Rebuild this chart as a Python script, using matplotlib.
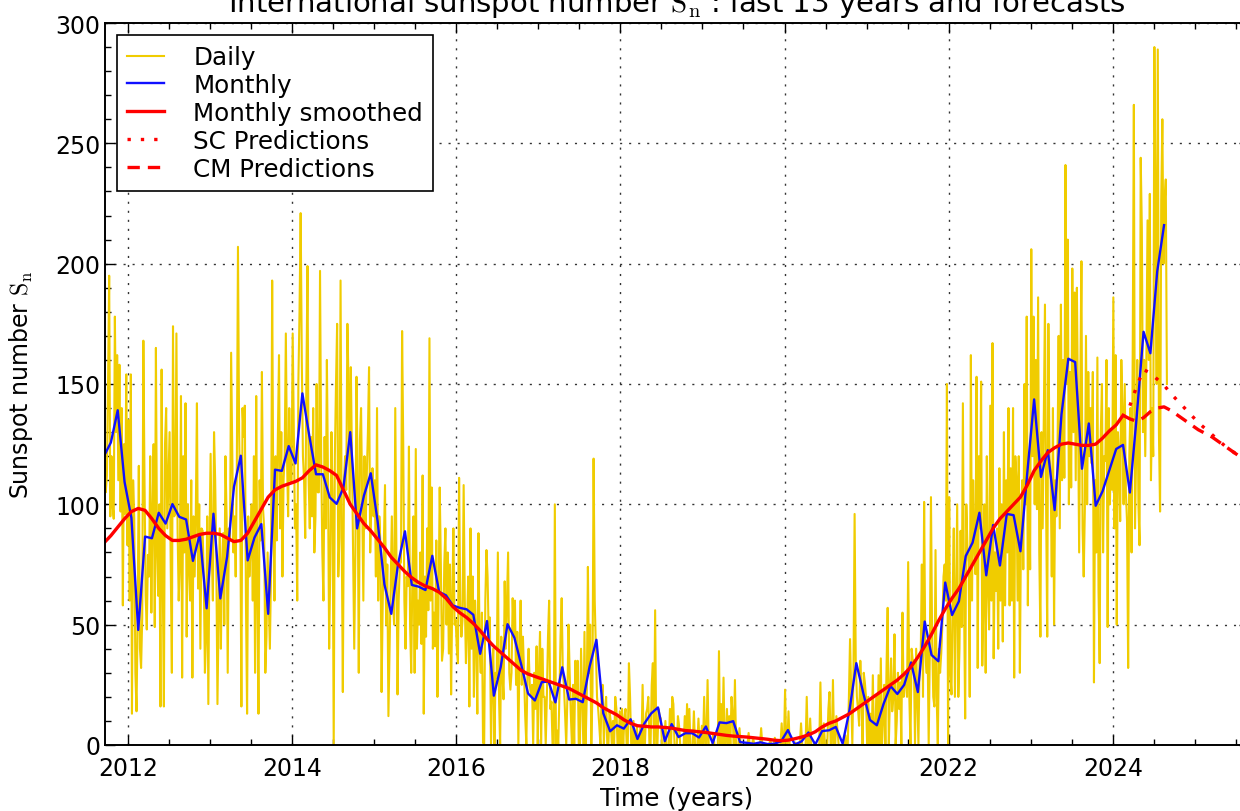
import numpy as np
import matplotlib
matplotlib.use("Agg")
import matplotlib.pyplot as plt
from matplotlib.ticker import MultipleLocator

# International sunspot number, Sep 2011 .. Aug 2024
# daily values: 6 samples per month (about every 5 days)
daily = [
    95, 130, 160, 118, 105, 112,   # 2011-09
    150, 195, 95, 120, 100, 94,
    178, 130, 162, 110, 158, 97,
    140, 58, 125, 96, 154, 83,
    135, 60, 154, 13, 110, 94,     # 2012-01
    30, 14, 55, 116, 40, 32,
    53, 168, 110, 62, 48, 79,
    70, 120, 55, 96, 125, 49,
    165, 80, 62, 100, 16, 156,
    70, 16, 125, 140, 90, 111,
    130, 75, 30, 174, 95, 96,
    171, 90, 60, 75, 145, 28,
    120, 80, 142, 45, 100, 75,
    60, 110, 28, 95, 70, 96,
    142, 65, 100, 40, 90, 89,
    70, 30, 45, 95, 17, 84,
    121, 80, 60, 130, 110, 76,     # 2013-01
    17, 55, 90, 40, 75, 88,
    50, 120, 95, 30, 90, 85,
    163, 120, 80, 95, 70, 116,
    207, 130, 100, 16, 140, 128,
    141, 60, 13, 95, 70, 81,
    100, 60, 120, 30, 145, 62,
    13, 110, 85, 155, 98, 90,
    30, 45, 80, 60, 40, 72,
    193, 100, 60, 120, 85, 128,
    162, 90, 130, 70, 110, 121,
    171, 120, 95, 140, 110, 109,
    171, 130, 90, 100, 60, 151,    # 2014-01
    180, 221, 160, 120, 110, 86,
    150, 199, 110, 90, 128, 95,
    140, 80, 95, 150, 105, 105,
    197, 120, 80, 60, 128, 90,
    160, 110, 40, 75, 130, 102,
    0, 120, 150, 175, 70, 86,
    193, 90, 22, 110, 120, 106,
    175, 150, 100, 157, 120, 78,
    40, 80, 153, 110, 30, 127,
    140, 100, 60, 120, 90, 112,
    130, 157, 80, 100, 115, 95,
    110, 70, 140, 60, 95, 83,      # 2015-01
    22, 60, 85, 108, 50, 75,
    12, 40, 70, 95, 60, 50,
    140, 80, 21, 60, 75, 76,
    172, 125, 60, 40, 70, 66,
    124, 50, 30, 70, 95, 30,
    123, 40, 60, 50, 80, 42,
    112, 13, 70, 45, 90, 56,
    169, 60, 107, 40, 55, 41,
    85, 20, 60, 107, 75, 35,
    40, 75, 90, 50, 80, 38,
    75, 21, 60, 90, 50, 52,
    40, 34, 111, 60, 45, 52,       # 2016-01
    108, 60, 34, 50, 70, 16,
    90, 40, 70, 20, 60, 45,
    13, 88, 40, 30, 55, 1,
    0, 60, 81, 70, 45, 53,
    0, 25, 40, 0, 30, 28,
    80, 20, 0, 45, 30, 19,
    68, 40, 60, 80, 30, 23,
    30, 61, 45, 60, 25, 47,
    0, 40, 60, 25, 45, 30,
    12, 0, 30, 40, 25, 21,
    25, 0, 30, 15, 41, 0,
    30, 47, 0, 40, 20, 20,         # 2017-01
    0, 20, 45, 60, 15, 18,
    0, 0, 100, 0, 6, 0,
    20, 45, 61, 30, 25, 13,
    0, 20, 50, 30, 13, 0,
    25, 0, 35, 20, 35, 0,
    0, 40, 20, 0, 47, 0,
    20, 74, 30, 50, 0, 22,
    119, 60, 40, 20, 15, 8,
    0, 20, 25, 0, 14, 20,
    0, 0, 14, 10, 0, 10,
    0, 20, 15, 0, 0, 14,
    0, 15, 0, 11, 15, 0,           # 2018-01
    0, 34, 20, 0, 0, 10,
    0, 0, 8, 0, 0, 7,
    0, 25, 0, 0, 13, 15,
    20, 0, 0, 25, 34, 0,
    56, 0, 0, 15, 12, 11,
    0, 0, 0, 10, 0, 0,
    0, 15, 0, 20, 17, 0,
    0, 0, 12, 8, 0, 0,
    0, 0, 12, 0, 17, 0,
    15, 0, 0, 0, 14, 0,
    0, 0, 11, 0, 0, 8,
    0, 20, 0, 0, 27, 0,            # 2019-01
    0, 0, 0, 5, 0, 0,
    0, 0, 39, 0, 17, 0,
    28, 0, 0, 15, 0, 12,
    0, 20, 12, 0, 27, 0,
    0, 0, 7, 0, 0, 0,
    0, 0, 0, 0, 5, 0,
    0, 0, 3, 0, 0, 0,
    0, 0, 0, 7, 0, 0,
    0, 0, 0, 0, 0, 2,
    0, 0, 0, 3, 0, 0,
    0, 0, 0, 9, 0, 0,
    23, 0, 0, 14, 0, 0,            # 2020-01
    0, 0, 0, 1, 0, 0,
    0, 0, 9, 0, 0, 0,
    0, 20, 0, 0, 11, 0,
    0, 0, 1, 0, 0, 0,
    0, 26, 0, 0, 9, 0,
    0, 0, 15, 22, 0, 0,
    27, 0, 0, 12, 6, 0,
    0, 0, 0, 0, 0, 4,
    0, 0, 20, 44, 22, 0,
    30, 96, 35, 20, 15, 8,
    35, 20, 0, 30, 26, 20,
    0, 20, 0, 13, 0, 29,           # 2021-01
    0, 0, 20, 0, 29, 0,
    36, 0, 10, 25, 0, 32,
    57, 0, 20, 36, 14, 20,
    46, 0, 10, 30, 15, 26,
    0, 55, 20, 30, 25, 20,
    76, 20, 0, 40, 35, 35,
    0, 40, 20, 0, 35, 37,
    75, 20, 101, 40, 30, 42,
    0, 40, 103, 45, 20, 16,
    81, 20, 0, 40, 30, 38,
    50, 70, 75, 60, 150, 0,
    103, 30, 21, 60, 90, 20,       # 2022-01
    60, 100, 20, 40, 89, 49,
    142, 60, 11, 100, 82, 76,
    20, 162, 60, 110, 82, 71,
    153, 32, 120, 90, 151, 33,
    60, 100, 30, 120, 65, 48,
    141, 60, 167, 36, 80, 64,
    90, 40, 115, 60, 100, 43,
    130, 58, 110, 80, 140, 58,
    115, 60, 140, 28, 120, 110,
    60, 120, 30, 90, 110, 73,
    150, 100, 178, 58, 120, 73,
    206, 120, 178, 100, 160, 98,   # 2023-01
    186, 80, 45, 130, 90, 137,
    183, 100, 45, 175, 120, 112,
    70, 140, 50, 110, 95, 121,
    170, 90, 183, 110, 160, 111,
    241, 150, 210, 100, 155, 107,
    198, 130, 188, 110, 190, 139,
    80, 150, 201, 90, 70, 98,
    170, 100, 155, 120, 140, 117,
    155, 26, 110, 80, 161, 64,
    34, 130, 150, 80, 120, 118,
    160, 49, 140, 100, 130, 106,
    186, 90, 162, 50, 130, 120,    # 2024-01
    93, 160, 140, 100, 150, 105,
    93, 32, 120, 140, 80, 164,
    266, 90, 120, 160, 100, 83,
    244, 215, 130, 160, 120, 161,
    218, 160, 229, 110, 140, 120,
    290, 225, 150, 289, 130, 97,
    226, 260, 200, 225, 235, 150,
]

# monthly mean values, Sep 2011 .. Aug 2024
monthly = [
    120.1, 125.7, 139.1, 109.3,
    94.4, 47.8, 86.6, 85.9, 96.5, 92.0, 100.1, 94.8, 93.7, 76.5, 87.6, 56.8,
    96.1, 60.9, 78.3, 107.3, 120.2, 76.7, 86.2, 91.8, 54.5, 114.4, 113.9, 124.2,
    117.0, 146.1, 128.7, 112.5, 112.5, 102.9, 100.2, 106.9, 130.0, 90.0, 103.6, 112.9,
    93.0, 66.7, 54.5, 75.3, 88.8, 66.5, 65.8, 64.4, 78.6, 63.6, 62.2, 58.0,
    57.0, 56.4, 54.1, 37.9, 51.5, 20.5, 32.4, 50.2, 44.6, 33.4, 21.4, 18.5,
    26.1, 26.4, 17.7, 32.3, 18.9, 19.2, 17.8, 32.6, 43.7, 13.2, 5.7, 8.2,
    6.8, 10.7, 2.5, 8.9, 13.1, 15.6, 1.6, 8.7, 3.3, 4.9, 4.9, 3.1,
    7.7, 0.8, 9.4, 9.1, 9.9, 1.2, 0.9, 0.5, 1.1, 0.4, 0.5, 1.5,
    6.2, 0.2, 1.5, 5.2, 0.2, 5.8, 6.1, 7.5, 0.6, 14.4, 34.0, 21.8,
    10.4, 8.2, 17.2, 24.5, 21.2, 25.0, 34.3, 22.0, 51.3, 37.4, 34.8, 67.5,
    54.0, 59.7, 78.5, 84.1, 96.5, 70.5, 91.4, 74.6, 96.0, 95.5, 80.5, 113.1,
    143.6, 111.4, 122.5, 97.6, 137.4, 160.5, 159.1, 114.8, 133.6, 99.4, 105.4, 114.2,
    123.0, 124.7, 104.9, 136.5, 171.7, 162.8, 196.8, 216.0,
]

# 13-month smoothed values, Sep 2011 .. Feb 2024
smoothed = [
    84.0, 87.0, 90.5, 94.0,
    97.0, 98.3, 97.5, 94.0, 90.0, 87.0, 85.0, 85.0, 85.5, 86.5, 87.5, 88.0,
    88.0, 87.5, 86.0, 84.5, 85.0, 88.0, 93.0, 98.0, 103.0, 106.0, 107.5, 108.5,
    109.5, 111.0, 114.0, 116.4, 115.5, 114.0, 112.0, 106.0, 100.0, 96.0, 92.0, 89.0,
    85.5, 82.0, 78.0, 75.0, 72.0, 69.5, 67.5, 66.0, 65.0, 63.5, 61.0, 57.5,
    55.0, 53.0, 50.5, 47.5, 44.0, 41.0, 38.5, 36.0, 33.5, 31.0, 29.5, 28.5,
    27.5, 26.5, 25.5, 24.5, 23.5, 22.0, 20.5, 19.0, 17.5, 15.5, 14.0, 12.5,
    10.5, 9.0, 8.0, 7.8, 7.5, 7.5, 7.3, 7.0, 6.5, 6.0, 5.8, 5.5,
    5.2, 4.8, 4.4, 4.0, 3.7, 3.5, 3.3, 3.0, 2.7, 2.4, 2.0, 1.8,
    2.0, 2.6, 3.3, 4.2, 5.5, 7.5, 9.0, 10.0, 11.5, 13.0, 15.0, 17.0,
    19.0, 21.0, 23.0, 25.0, 27.0, 29.5, 32.5, 36.5, 41.0, 46.0, 51.5, 56.5,
    61.0, 65.0, 70.0, 75.0, 80.0, 85.0, 90.0, 94.0, 97.0, 100.0, 103.0, 108.0,
    114.0, 118.0, 121.5, 123.5, 125.0, 125.5, 125.0, 124.5, 124.5, 125.0, 127.5, 130.5,
    133.0, 137.0,
]

# forecasts of the smoothed number
sc_pred = [141, 149, 156, 154.5, 152, 149.5, 146, 143, 140, 137, 134,
           131.5, 129, 126.5, 124, 122, 120, 117.5, 115]       # Mar 2024 ..
cm_pred = [137, 135.5, 134.5, 136, 138.5, 140, 140.5, 139, 137, 135, 133,
           131, 129.5, 128, 126, 124, 122, 120, 117.5, 115]    # Feb 2024 ..

start = 2011 + 8 / 12.0  # 1 Sep 2011
t_daily = start + (np.arange(len(daily)) + 0.5) / 72.0
t_monthly = start + (np.arange(len(monthly)) + 0.5) / 12.0
t_smooth = start + (np.arange(len(smoothed)) + 0.5) / 12.0
t_sc = 2024 + (2 + np.arange(len(sc_pred)) + 0.5) / 12.0
t_cm = 2024 + (1 + np.arange(len(cm_pred)) + 0.5) / 12.0

plt.rcParams["font.family"] = "DejaVu Sans"
plt.rcParams["mathtext.fontset"] = "cm"
plt.rcParams["font.size"] = 17

fig = plt.figure(figsize=(12.4, 8.12), dpi=100, facecolor="white")
ax = fig.add_axes([105 / 1240, 66 / 812, 1144 / 1240, 722 / 812])

ax.plot(t_daily, daily, color="#f0cc00", lw=1.5, label="Daily")
ax.plot(t_monthly, monthly, color="#1010ff", lw=1.7, label="Monthly")
ax.plot(t_smooth, smoothed, color="red", lw=2.4, label="Monthly smoothed")
ax.plot(t_sc, sc_pred, color="red", lw=2.4, linestyle=(0, (1, 3)),
        label="SC Predictions")
ax.plot(t_cm, cm_pred, color="red", lw=2.4, linestyle=(0, (3.7, 2.4)),
        label="CM Predictions")

ax.set_xlim(2011.72, 2025.66)
ax.set_ylim(0, 300)
ax.xaxis.set_major_locator(MultipleLocator(2))
ax.xaxis.set_minor_locator(MultipleLocator(0.5))
ax.yaxis.set_major_locator(MultipleLocator(50))
ax.yaxis.set_minor_locator(MultipleLocator(10))
ax.tick_params(which="both", direction="in", top=True, right=True)
ax.tick_params(which="major", length=7, width=1)
ax.tick_params(which="minor", length=4, width=1)
ax.tick_params(axis="x", pad=8)
for sp in ax.spines.values():
    sp.set_linewidth(1.4)
ax.grid(True, linestyle=(0, (1.5, 5)), color="#333333", lw=1.0)

ax.set_title("International sunspot number $\\mathrm{S_n}$ : last 13 years and forecasts",
             fontsize=21, pad=9)
ax.set_xlabel("Time (years)", fontsize=17.5)
ax.set_ylabel("Sunspot number $\\mathrm{S_n}$", fontsize=17, labelpad=14)

leg = ax.legend(loc="upper left", fontsize=17.7, fancybox=False, framealpha=1,
                edgecolor="black", handlelength=1.5, handletextpad=1.2,
                labelspacing=0.16, borderpad=0.4, borderaxespad=0.5)
leg.get_frame().set_linewidth(1.2)

fig.savefig("out.png", dpi=100, facecolor="white")
